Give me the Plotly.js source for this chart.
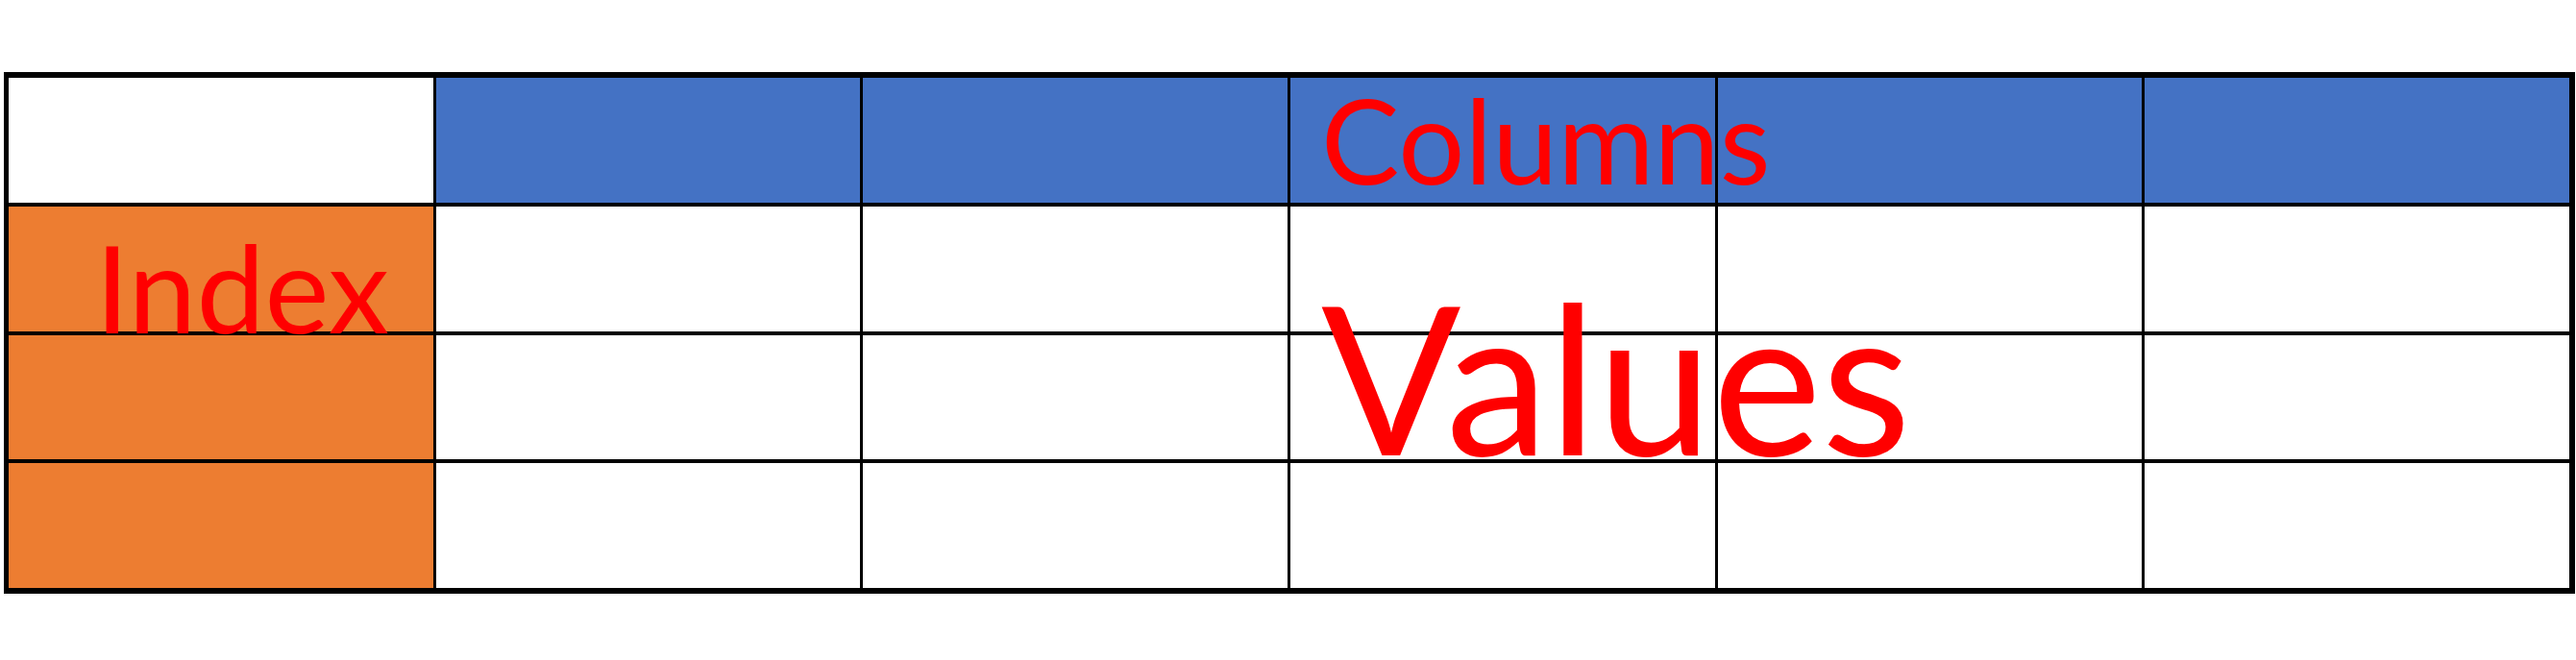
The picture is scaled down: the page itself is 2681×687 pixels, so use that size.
<!DOCTYPE html>
<html>
<head>
<script src="https://cdn.plot.ly/plotly-3.0.1.min.js"></script>
<style>body{margin:0;background:#fff}</style>
</head>
<body>
<div id="chart"></div>
<script>
// cell kinds: 0 = blank corner/value, 1 = column header, 2 = index
var colPositions = [0.5, 1.5, 2.5, 3.5, 4.5, 5.5];
var rowPositions = [0.5, 1.5, 2.5, 3.5];
var cellKinds = [
  [2, 0, 0, 0, 0, 0],
  [2, 0, 0, 0, 0, 0],
  [2, 0, 0, 0, 0, 0],
  [0, 1, 1, 1, 1, 1]
];
var labels = ['Columns', 'Index', 'Values'];

var data = [{
  type: 'heatmap',
  x: colPositions,
  y: rowPositions,
  z: cellKinds,
  zmin: 0, zmax: 2,
  xgap: 3, ygap: 4,
  colorscale: [[0, '#ffffff'], [0.5, '#4472c4'], [1, '#ed7d31']],
  showscale: false,
  hoverinfo: 'none'
}];

var axisStyle = {
  showgrid: false, showline: true, mirror: true, linecolor: '#000', linewidth: 4,
  zeroline: false, showticklabels: false, ticks: '', fixedrange: true
};

var font = {family: 'Lato, sans-serif', color: '#ff0000'};

var layout = {
  width: 2681, height: 687,
  margin: {l: 8, r: 5, t: 79, b: 73},
  paper_bgcolor: '#fff', plot_bgcolor: '#000',
  xaxis: Object.assign({range: [0, 6]}, axisStyle),
  yaxis: Object.assign({range: [0, 4]}, axisStyle),
  annotations: [
    {x: 3.07, y: 3.51, text: labels[0], xanchor: 'left', showarrow: false,
     font: Object.assign({size: 122}, font)},
    {x: 0.2, y: 2.36, text: labels[1], xanchor: 'left', showarrow: false,
     font: Object.assign({size: 127}, font)},
    {x: 3.07, y: 1.67, text: labels[2], xanchor: 'left', showarrow: false,
     font: Object.assign({size: 215}, font)}
  ]
};

Plotly.newPlot('chart', data, layout, {staticPlot: true});
</script>
</body>
</html>
